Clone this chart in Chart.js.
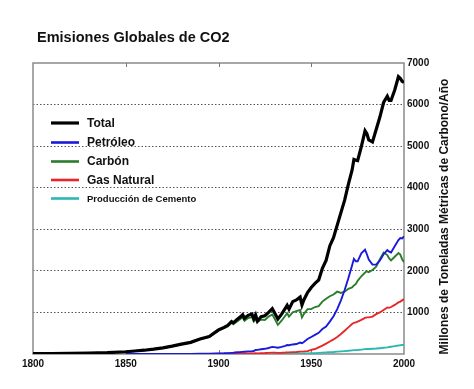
<!DOCTYPE html>
<html>
<head>
<meta charset="utf-8">
<script src="https://cdn.jsdelivr.net/npm/chart.js@4"></script>
<style>
  html, body { margin: 0; padding: 0; background: #ffffff; }
  #wrap { position: relative; width: 474px; height: 389px; }
</style>
</head>
<body>
<div id="wrap"><canvas id="c" width="474" height="389"></canvas></div>
<script>
const years = [1800,1810,1820,1830,1840,
  1850,1855,1860,1865,1870,
  1875,1880,1885,1890,1895,
  1900,1903,1905,1907,1908,
  1910,1912,1913,1914,1916,
  1918,1919,1920,1921,1923,
  1925,1927,1929,1930,1932,
  1934,1936,1937,1938,1940,
  1942,1944,1945,1946,1948,
  1950,1952,1954,1956,1958,
  1960,1962,1964,1966,1968,
  1970,1972,1973,1974,1975,
  1977,1979,1980,1981,1983,
  1985,1987,1989,1991,1992,
  1993,1995,1997,1998,1999,
  2000];

const total = [8,10,14,24,33,
  54,72,91,116,147,
  188,236,280,360,420,
  580,640,690,780,750,
  830,900,945,860,930,
  960,850,940,790,900,
  920,1000,1090,1010,840,
  960,1100,1170,1080,1260,
  1300,1370,1180,1300,1480,
  1600,1700,1780,2060,2250,
  2600,2800,3100,3400,3700,
  4080,4420,4680,4660,4650,
  4990,5370,5300,5150,5100,
  5400,5700,6050,6200,6100,
  6100,6350,6670,6630,6560,
  6530];

const petroleo = [null,null,null,null,null,
  0,0,0,1,1,
  2,3,4,6,8,
  16,18,22,28,30,
  43,48,52,55,62,
  66,70,97,100,115,
  125,145,170,165,150,
  170,195,215,210,230,
  240,275,260,290,360,
  410,460,510,600,660,
  780,910,1080,1290,1540,
  1820,2130,2290,2230,2230,
  2420,2510,2400,2270,2150,
  2150,2250,2400,2500,2460,
  2440,2590,2740,2790,2780,
  2830];

const carbon = [8,10,14,24,33,
  54,72,91,115,145,
  185,230,272,350,410,
  560,620,660,750,715,
  780,845,885,800,865,
  890,780,830,770,830,
  820,900,950,870,700,
  800,920,980,900,1000,
  1030,1060,880,960,1080,
  1080,1130,1150,1260,1330,
  1390,1430,1500,1470,1500,
  1570,1600,1650,1680,1760,
  1870,1960,1990,1970,2020,
  2100,2280,2440,2380,2300,
  2250,2340,2430,2390,2280,
  2210];

const gasNatural = [null,null,null,null,null,
  null,null,null,null,null,
  null,null,0,3,3,
  5,5,6,8,8,
  10,11,12,12,14,
  16,15,18,16,22,
  24,28,33,32,28,
  31,36,40,39,44,
  48,56,58,60,70,
  100,120,160,200,250,
  300,350,410,480,560,
  640,720,750,760,780,
  820,870,880,880,900,
  960,1000,1060,1120,1110,
  1130,1180,1240,1260,1290,
  1320];

const cemento = [null,null,null,null,null,
  null,null,null,null,null,
  null,null,null,null,null,
  null,null,null,null,null,
  null,null,null,null,null,
  null,null,null,null,null,
  null,null,10,10,8,
  9,11,12,12,13,
  12,10,8,10,15,
  18,22,27,32,38,
  43,48,56,63,70,
  78,88,93,93,95,
  105,116,120,121,126,
  131,140,150,160,168,
  175,190,205,210,217,
  225];

const xTicks = [1800, 1850, 1900, 1950, 2000];
const yTicks = [0, 1000, 2000, 3000, 4000, 5000, 6000, 7000];

const titleText = 'Emisiones Globales de CO2';
const yTitleText = 'Millones de Toneladas Métricas de Carbono/Año';
const seriesNames = ['Total', 'Petróleo', 'Carbón', 'Gas Natural', 'Producción de Cemento'];
const seriesValues = [total, petroleo, carbon, gasNatural, cemento];
const seriesColors = ['#000000', '#1a1adb', '#2a7d2a', '#e8262a', '#2bb8b0'];
const seriesWidths = [3.2, 1.9, 1.9, 1.9, 1.9];

function pts(vals) {
  return years.map((y, i) => ({ x: y, y: vals[i] }));
}

const FONT = "'Liberation Sans', Arial, sans-serif";

const deco = {
  id: 'deco',
  beforeDatasetsDraw(chart) {
    const ctx = chart.ctx, a = chart.chartArea, xs = chart.scales.x;
    ctx.save();
    ctx.strokeStyle = '#8a8a8a';
    ctx.lineWidth = 1.5;
    ctx.strokeRect(a.left, a.top, a.right - a.left, a.bottom - a.top);
    ctx.lineWidth = 1;
    ctx.strokeStyle = '#777';
    xTicks.slice(1, -1).forEach(v => {
      const px = Math.round(xs.getPixelForValue(v)) + 0.5;
      ctx.beginPath();
      ctx.moveTo(px, a.top);
      ctx.lineTo(px, a.top + 4);
      ctx.moveTo(px, a.bottom);
      ctx.lineTo(px, a.bottom - 4);
      ctx.stroke();
    });
    ctx.restore();
  },
  afterDraw(chart) {
    const ctx = chart.ctx, a = chart.chartArea;
    ctx.save();
    ctx.fillStyle = '#111';
    ctx.textAlign = 'left';
    ctx.textBaseline = 'alphabetic';
    ctx.font = 'bold 14.5px ' + FONT;
    ctx.fillText(titleText, 37, 42);

    // right axis title (reads bottom to top)
    ctx.save();
    ctx.translate(448, (a.top + a.bottom) / 2 + 8);
    ctx.rotate(-Math.PI / 2);
    ctx.textAlign = 'center';
    ctx.font = 'bold 12px ' + FONT;
    ctx.fillText(yTitleText, 0, 0);
    ctx.restore();

    // legend
    const ys = [123, 142.5, 161.5, 180, 198.5];
    seriesNames.forEach((n, i) => {
      ctx.strokeStyle = seriesColors[i];
      ctx.lineWidth = i === 0 ? 3.2 : 2.6;
      ctx.beginPath();
      ctx.moveTo(51, ys[i]);
      ctx.lineTo(79, ys[i]);
      ctx.stroke();
      ctx.fillStyle = '#111';
      ctx.textBaseline = 'middle';
      ctx.font = (i === 4 ? 'bold 9.5px ' : 'bold 12px ') + FONT;
      ctx.fillText(n, 87, ys[i] + 0.5);
    });
    ctx.restore();
  }
};

new Chart(document.getElementById('c'), {
  type: 'line',
  data: {
    datasets: seriesNames.map((n, i) => ({
      label: n,
      data: pts(seriesValues[i]),
      borderColor: seriesColors[i],
      backgroundColor: seriesColors[i],
      borderWidth: seriesWidths[i],
      pointRadius: 0,
      tension: 0,
      fill: false,
      spanGaps: false
    }))
  },
  options: {
    responsive: false,
    animation: false,
    devicePixelRatio: 1,
    layout: { padding: { left: 33, top: 63, right: 0, bottom: 10 } },
    plugins: {
      legend: { display: false },
      title: { display: false },
      tooltip: { enabled: false }
    },
    scales: {
      x: {
        type: 'linear',
        min: 1800,
        max: 2000,
        afterBuildTicks(scale) { scale.ticks = xTicks.map(v => ({ value: v })); },
        afterFit(scale) { scale.height = 25; scale.paddingLeft = 0; scale.paddingRight = 0; },
        grid: { display: false, drawTicks: false },
        border: { display: false },
        ticks: {
          padding: 4,
          maxRotation: 0,
          autoSkip: false,
          color: '#111',
          font: { family: FONT, size: 10, weight: 'bold' },
          callback: v => String(v)
        }
      },
      y: {
        position: 'right',
        min: 0,
        max: 7000,
        afterBuildTicks(scale) { scale.ticks = yTicks.map(v => ({ value: v })); },
        afterFit(scale) { scale.width = 70; scale.paddingTop = 0; scale.paddingBottom = 0; },
        grid: {
          drawTicks: false,
          lineWidth: 1,
          color: ctx => (ctx.tick && (ctx.tick.value === 0 || ctx.tick.value === 7000)) ? 'rgba(0,0,0,0)' : '#555555'
        },
        border: { display: false, dash: [1.5, 2] },
        ticks: {
          padding: 3,
          color: '#111',
          font: { family: FONT, size: 10, weight: 'bold' },
          callback: v => (v === 0 ? '' : String(v))
        }
      }
    }
  },
  plugins: [deco]
});
</script>
</body>
</html>
